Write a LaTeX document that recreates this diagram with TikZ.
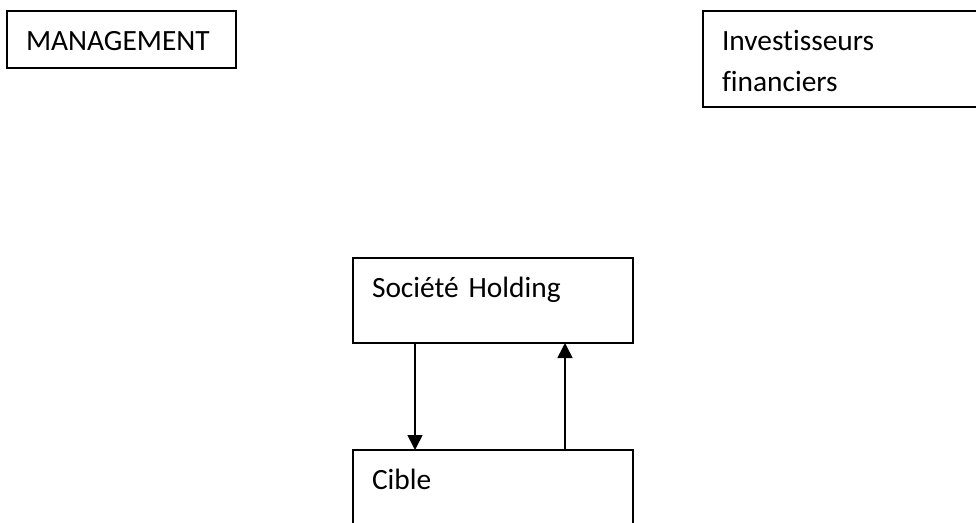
\documentclass[tikz,border=0pt]{standalone}
\usepackage{fontspec}
\setmainfont{Carlito}[Ligatures=NoCommon]
\usetikzlibrary{arrows.meta, positioning}

\begin{document}
\begin{tikzpicture}[
  x=1pt, y=-1pt,
  font=\fontsize{29.4}{41}\selectfont,
  box/.style={rectangle, draw=black, line width=1.8pt, outer sep=0pt,
              inner xsep=19pt, inner ysep=0pt, align=left,
              text height=39pt, anchor=north west},
  arrow/.style={-{Triangle[length=15pt, width=15pt]}, line width=1.6pt},
]
\useasboundingbox (0,0) rectangle (976,522);
\clip (0,0) rectangle (976,522);

\node[box, text width=191pt, text depth=18pt] (mgmt) at (7,11) {MANAGEMENT};
\node[box, text width=259pt, text depth=57pt] (invest) at (703,11) {Investisseurs\\financiers};
\node[box, text width=242pt, text depth=46pt] (hold) at (353,258) {Société Holding};
\node[box, text width=242pt, text depth=46pt, below=107pt of hold] (cible) {Cible};

\draw[arrow] ([xshift=-78pt]hold.south) -- ([xshift=-78pt]cible.north);
\draw[arrow] ([xshift=72pt]cible.north) -- ([xshift=72pt]hold.south);

\end{tikzpicture}
\end{document}
